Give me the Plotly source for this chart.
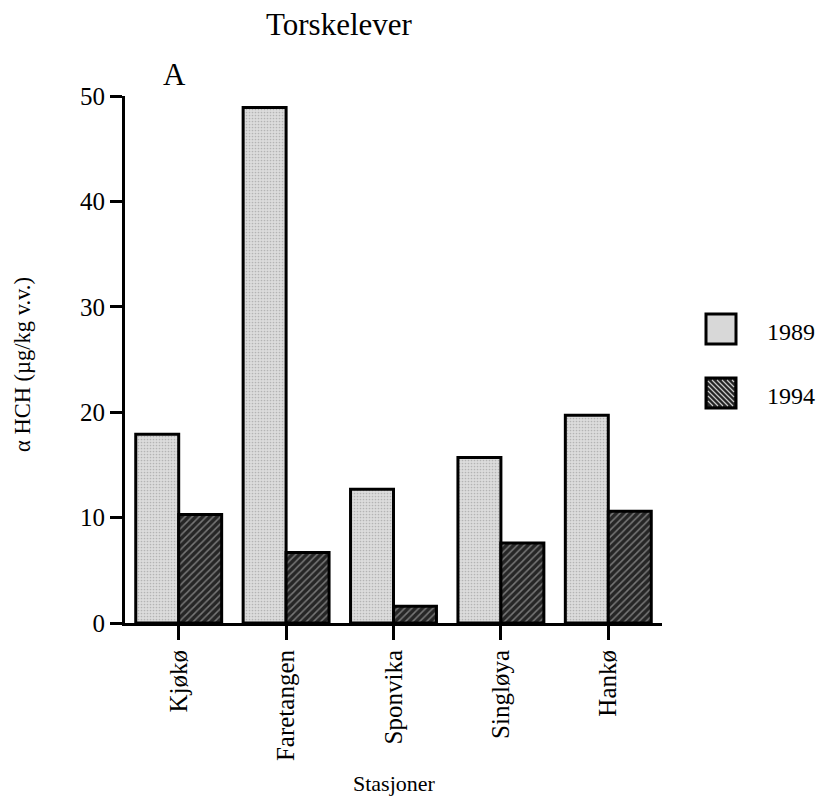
#!/usr/bin/env python3
# -*- coding: utf-8 -*-

from __future__ import annotations

import plotly.graph_objects as go

# --- data (µg/kg v.v.) ---
stations = ["Kjøkø", "Faretangen", "Sponvika", "Singløya", "Hankø"]
years = ["1989", "1994"]
hch_1989 = [17.9, 48.9, 12.7, 15.7, 19.7]
hch_1994 = [10.3, 6.7, 1.6, 7.6, 10.6]
y_ticks = [0, 10, 20, 30, 40, 50]

FONT = "Liberation Serif, Times New Roman, serif"

W, H = 819, 799
# plot area in pixels
L, R, T, B = 125, 662, 96, 623


def px(x: float) -> float:
    # pixel -> paper coordinate
    return (x - L) / (R - L)


def py(y: float) -> float:
    return (B - y) / (B - T)


def bar_styles() -> dict[str, dict]:
    return {
        "1989": dict(
            color="#d8d8d8",
            line=dict(color="black", width=3),
            pattern=dict(shape=".", bgcolor="#dcdcdc", fgcolor="#8c8c8c",
                         size=3, solidity=0.25),
        ),
        "1994": dict(
            color="#2b2b2b",
            line=dict(color="black", width=3),
            pattern=dict(shape="/", bgcolor="#262626", fgcolor="#c8c8c8",
                         size=5, solidity=0.3),
        ),
    }


def hatch_path(x0: float, y0: float, size: float, step: float = 5) -> str:
    # "/" lines clipped to a square (pixels in, paper coords out)
    parts = []
    c = step
    while c < 2 * size:
        a = max(0, c - size)
        b = min(c, size)
        p1 = (x0 + a, y0 + size - (c - a))
        p2 = (x0 + b, y0 + size - (c - b))
        parts.append(f"M{px(p1[0])},{py(p1[1])} L{px(p2[0])},{py(p2[1])}")
        c += step
    return " ".join(parts)


def legend_box(fig: go.Figure, y_top: float, fill: str, label: str,
               hatch: bool = False) -> None:
    x0, x1 = 706, 736
    fig.add_shape(
        type="rect", xref="paper", yref="paper",
        x0=px(x0), x1=px(x1), y0=py(y_top + 30), y1=py(y_top),
        fillcolor=fill, line=dict(color="black", width=3),
    )
    if hatch:
        fig.add_shape(
            type="path", xref="paper", yref="paper",
            path=hatch_path(x0 + 2, y_top + 2, 26),
            line=dict(color="#c8c8c8", width=1.2),
        )
    fig.add_annotation(
        x=px(765), y=py(y_top + 18), xref="paper", yref="paper",
        text=label, showarrow=False, xanchor="left", yanchor="middle",
        font=dict(family=FONT, size=24, color="black"),
    )


def text_at(fig: go.Figure, x: float, y: float, text: str, size: float,
            angle: float = 0) -> None:
    fig.add_annotation(
        x=px(x), y=py(y), xref="paper", yref="paper",
        text=text, showarrow=False, textangle=angle,
        xanchor="center", yanchor="middle",
        font=dict(family=FONT, size=size, color="black"),
    )


def main() -> int:
    styles = bar_styles()
    fig = go.Figure()
    for yr, vals in zip(years, [hch_1989, hch_1994]):
        fig.add_trace(go.Bar(
            x=stations, y=vals, name=yr, marker=styles[yr], showlegend=False,
        ))

    fig.update_layout(
        width=W, height=H,
        margin=dict(l=L, r=W - R, t=T, b=H - B, autoexpand=False),
        paper_bgcolor="white", plot_bgcolor="white",
        barmode="group", bargap=0.2, bargroupgap=0.0,
        font=dict(family=FONT, color="black"),
    )
    fig.update_xaxes(
        showline=True, linecolor="black", linewidth=3,
        ticks="outside", ticklen=14, tickwidth=3, tickcolor="black",
        tickangle=-90, tickfont=dict(family=FONT, size=25),
        showgrid=False, zeroline=False, automargin=False,
    )
    fig.update_yaxes(
        range=[0, 50], tickvals=y_ticks,
        showline=True, linecolor="black", linewidth=3,
        ticks="outside", ticklen=12, tickwidth=3, tickcolor="black",
        tickfont=dict(family=FONT, size=25),
        showgrid=False, zeroline=False, automargin=False,
    )

    # titles (positions in pixels)
    text_at(fig, 339, 25, "Torskelever", 31)
    text_at(fig, 174, 74, "A", 31)
    text_at(fig, 394, 783, "Stasjoner", 22)
    text_at(fig, 22, 365, "α HCH (µg/kg v.v.)", 22.5, -90)

    # legend drawn by hand to get the large square swatches
    legend_box(fig, 314, "#d8d8d8", "1989")
    legend_box(fig, 378, "#262626", "1994", hatch=True)

    # drop the default 8px body margin so the figure fills the window
    fig.write_html("out.html",
                   config={"displayModeBar": False},
                   post_script="document.body.style.margin='0';"
                               "document.body.style.overflow='hidden';")
    return 0


if __name__ == "__main__":
    raise SystemExit(main())
